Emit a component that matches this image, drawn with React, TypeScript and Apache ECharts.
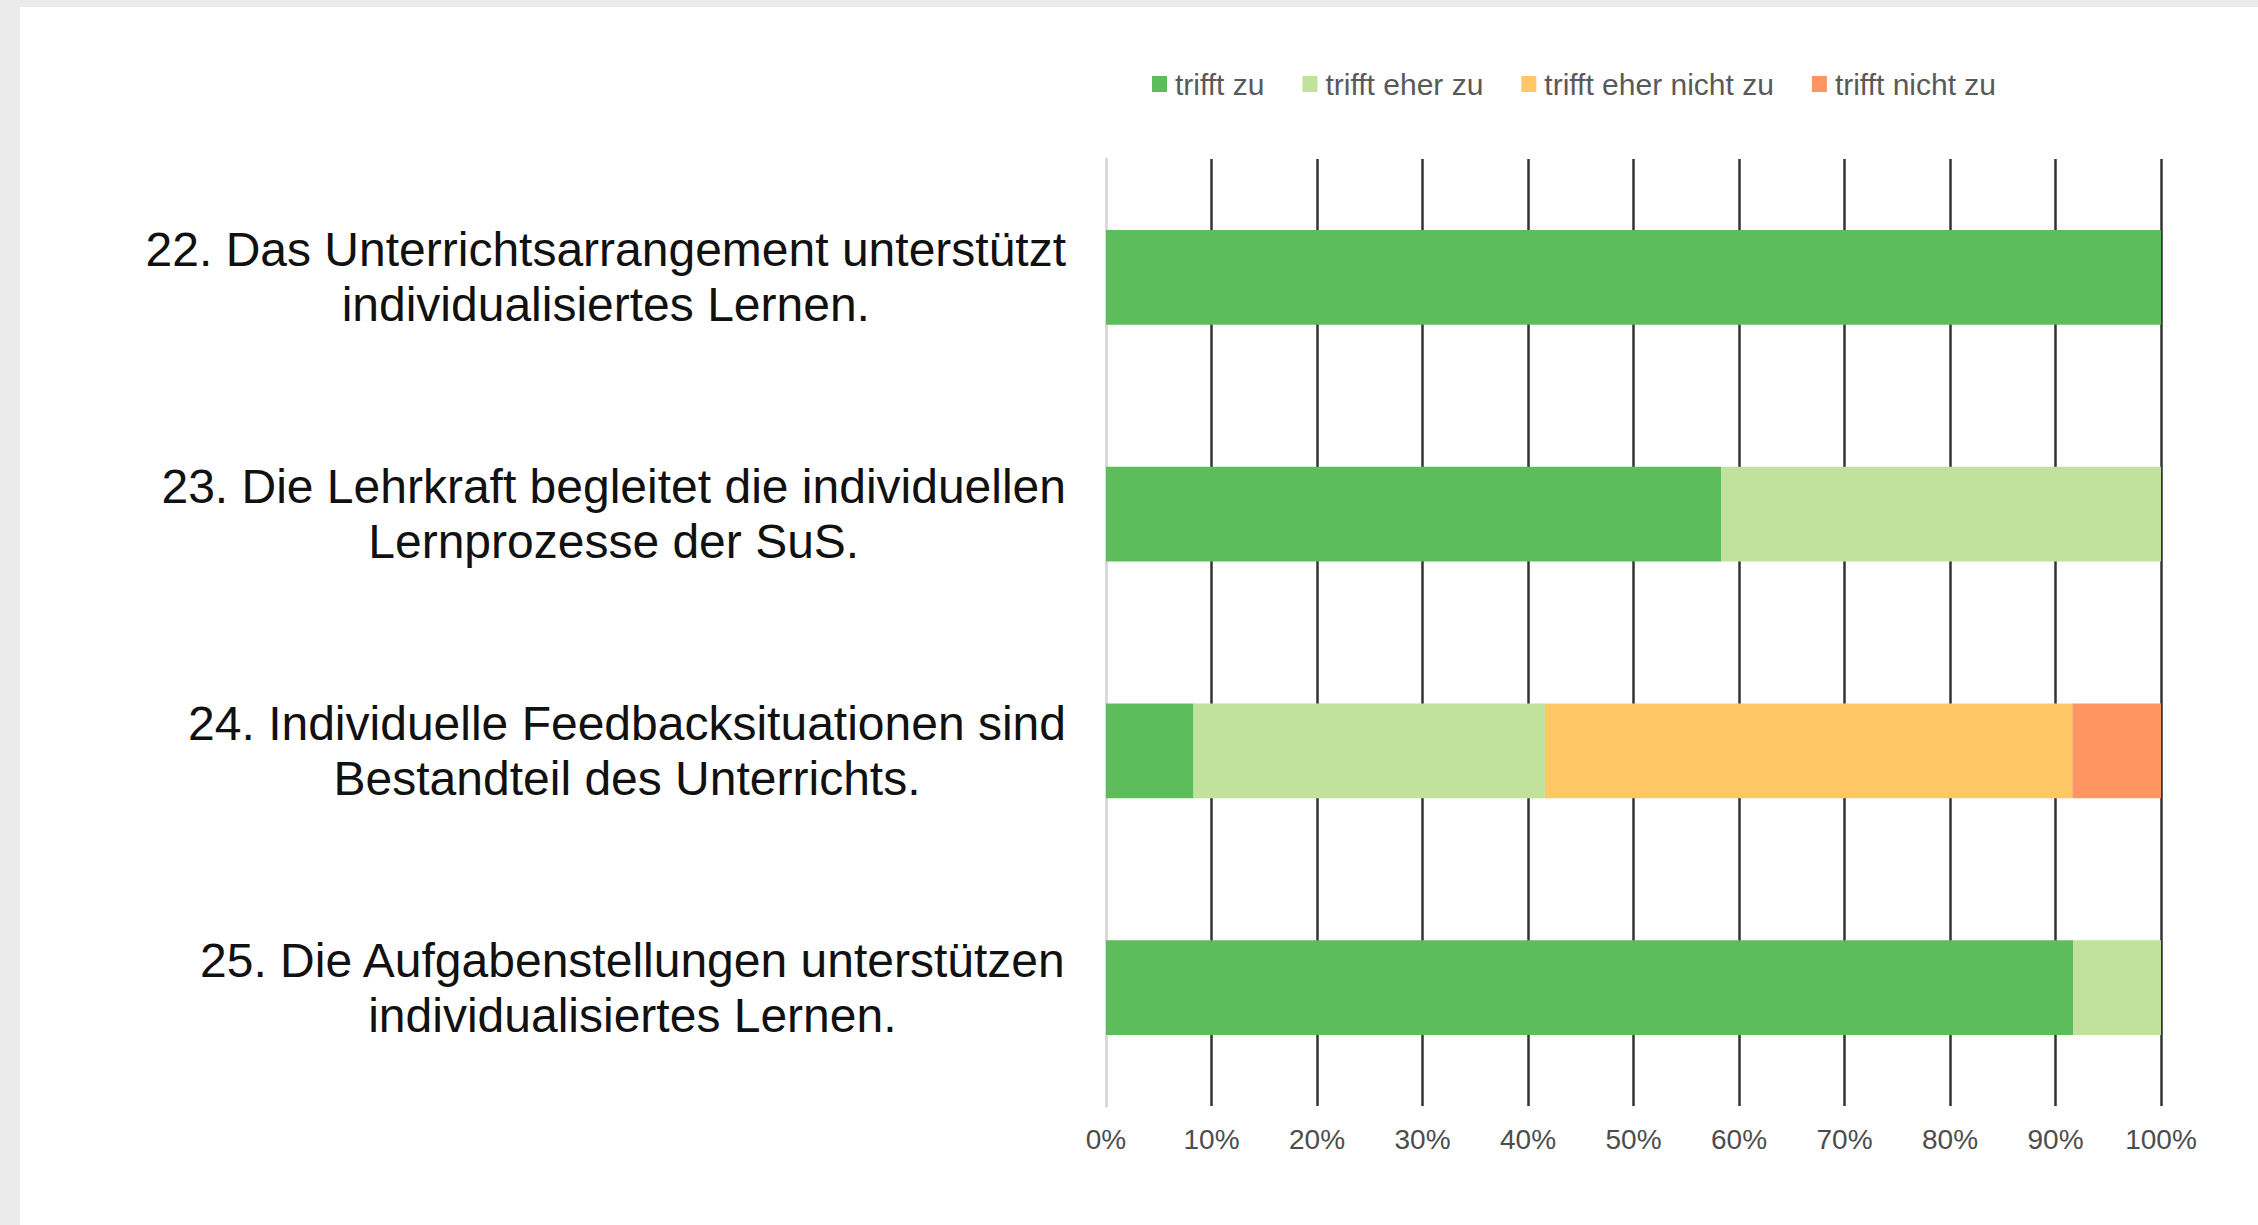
import React, { useEffect, useRef } from "react";
import * as echarts from "echarts";

const categories = [
  "22. Das Unterrichtsarrangement unterstützt\nindividualisiertes Lernen.",
  "23. Die Lehrkraft begleitet die individuellen\nLernprozesse der SuS.",
  "24. Individuelle Feedbacksituationen sind\nBestandteil des Unterrichts.",
  "25. Die Aufgabenstellungen unterstützen\nindividualisiertes Lernen.",
];

const seriesNames = ["trifft zu", "trifft eher zu", "trifft eher nicht zu", "trifft nicht zu"];
const trifftZu = [100, 58.3, 8.3, 91.7];
const trifftEherZu = [0, 41.7, 33.3, 8.3];
const trifftEherNichtZu = [0, 0, 50, 0];
const trifftNichtZu = [0, 0, 8.4, 0];
const seriesValues = [trifftZu, trifftEherZu, trifftEherNichtZu, trifftNichtZu];
const seriesColors = ["#5EBD5B", "#C0E29A", "#FFC866", "#FF9661"];

const FONT = "'Liberation Sans', Arial, sans-serif";

export default function App() {
  const ref = useRef<HTMLDivElement>(null);

  useEffect(() => {
    if (!ref.current) return;
    const chart = echarts.init(ref.current, undefined, { renderer: "svg" });
    const splitColors = ["#d9d9d9"].concat(Array(10).fill("#333333"));
    chart.setOption({
      animation: false,
      backgroundColor: "#ffffff",
      legend: {
        data: seriesNames,
        left: 1127,
        top: 57,
        icon: "rect",
        itemWidth: 15,
        itemHeight: 16,
        itemGap: 38,
        textStyle: {
          fontSize: 30,
          color: "#595959",
          fontFamily: FONT,
          padding: [0, 0, 0, 3],
        },
      },
      grid: {
        left: 1086,
        right: 97,
        top: 152,
        bottom: 119,
        containLabel: false,
      },
      xAxis: {
        type: "value",
        min: 0,
        max: 100,
        interval: 10,
        axisLine: { show: false },
        axisTick: { show: false },
        axisLabel: {
          formatter: "{value}%",
          fontSize: 28,
          color: "#4d4d4d",
          fontFamily: FONT,
          margin: 19,
        },
        splitLine: {
          show: true,
          lineStyle: { color: splitColors, width: 2.5 },
        },
      },
      yAxis: {
        type: "category",
        inverse: true,
        data: categories,
        axisLine: { show: true, lineStyle: { color: "#d9d9d9", width: 3 } },
        axisTick: { show: false },
        axisLabel: {
          margin: 40,
          align: "right",
          formatter: (v: string) =>
            v
              .split("\n")
              .map((l) => `{c|${l}}`)
              .join("\n"),
          rich: {
            c: {
              fontSize: 48,
              lineHeight: 55,
              align: "center",
              color: "#111111",
              fontFamily: FONT,
            },
          },
        },
      },
      series: seriesNames.map((name, i) => ({
        name,
        type: "bar",
        stack: "total",
        data: seriesValues[i],
        barWidth: "40%",
        itemStyle: { color: seriesColors[i] },
      })),
    });
    return () => chart.dispose();
  }, []);

  return (
    <div
      style={{
        position: "fixed",
        left: 0,
        top: 0,
        width: 2258,
        height: 1225,
        background: "#ebebeb",
      }}
    >
      <div
        ref={ref}
        style={{
          position: "absolute",
          left: 20,
          top: 7,
          width: 2238,
          height: 1218,
        }}
      />
    </div>
  );
}
